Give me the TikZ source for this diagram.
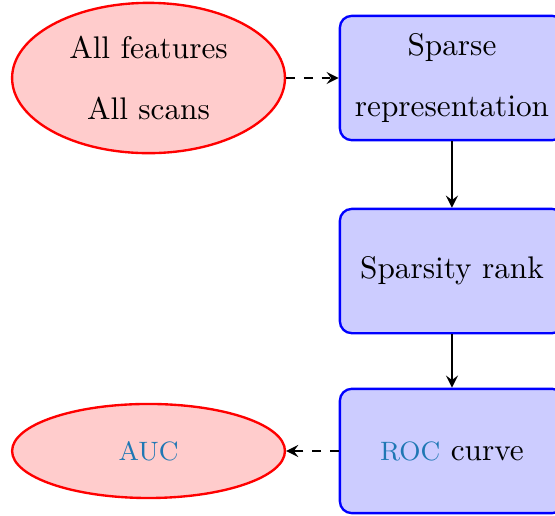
\documentclass[tikz,border=0pt]{standalone}
\usepackage{tikz}
\usetikzlibrary{shapes.geometric,arrows}

\definecolor{acro}{RGB}{31,119,180}
\newcommand{\acro}[1]{\textcolor{acro}{\fontsize{9pt}{11pt}\selectfont #1}}

\tikzset{
    every node/.style={font=\fontsize{10.6pt}{12.8pt}\selectfont},
    data/.style={ellipse, draw=red, fill=red!20, thick, align=center,
        minimum width=3.25cm},
    process/.style={rectangle, rounded corners, draw=blue, fill=blue!20, thick,
        align=center, minimum width=2.67cm, minimum height=1.48cm},
    flow/.style={thick, -stealth}
}

\begin{document}
\begin{tikzpicture}
            \useasboundingbox (0, 0) rectangle (6.61, -6.134);

            \node [data, minimum height=1.79cm] (all data) at (1.769, -0.929)
                {All features\\[8pt]All scans};

            \node [process] (sparse) at (5.383, -0.929) {Sparse\\[8pt]representation};
            \node [process] (rank) at (5.383, -3.228) {Sparsity rank};
            \node [process] (roc) at (5.383, -5.371) {\acro{ROC} curve};

            \node [data, minimum height=1.12cm] (auc) at (1.769, -5.371) {\acro{AUC}};

            \draw [flow, dashed] (all data) -- (sparse);
            \draw [flow] (sparse) -- (rank);
            \draw [flow] (rank) -- (roc);
            \draw [flow, dashed] (roc) -- (auc);
    \end{tikzpicture}
\end{document}
